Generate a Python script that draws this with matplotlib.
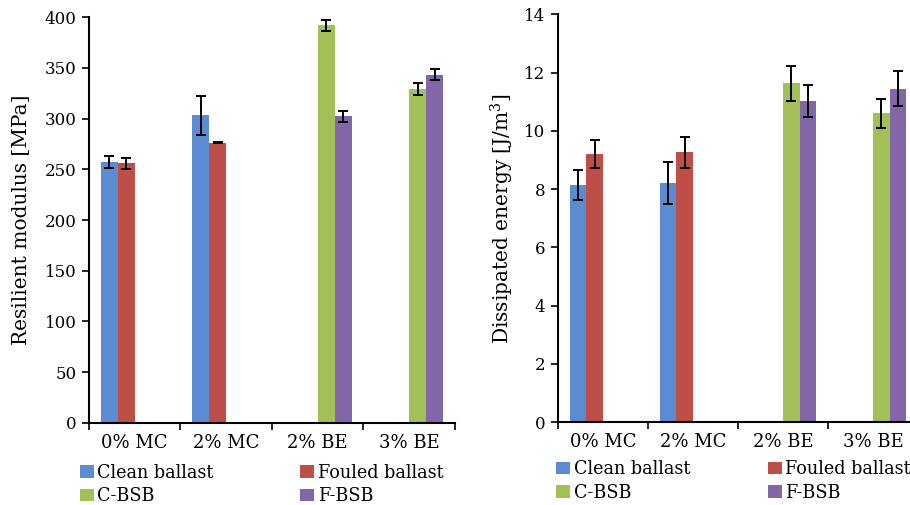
import numpy as np
import matplotlib

matplotlib.use("Agg")
import matplotlib.pyplot as plt

plt.rcParams["font.family"] = ["DejaVu Serif"]
plt.rcParams["mathtext.fontset"] = "dejavuserif"

# Dados (nan = série ausente na categoria)
categorias = ["0% MC", "2% MC", "2% BE", "3% BE"]
series = ["Clean ballast", "Fouled ballast", "C-BSB", "F-BSB"]
cores = ["#5b8bd0", "#bd4f48", "#a2c057", "#8166a8"]

mr_clean = [257, 303, np.nan, np.nan]
mr_fouled = [256, 276, np.nan, np.nan]
mr_cbsb = [np.nan, np.nan, 392, 329]
mr_fbsb = [np.nan, np.nan, 302, 343]
mr_err_clean = [6, 19, 0, 0]
mr_err_fouled = [5.5, 0.5, 0, 0]
mr_err_cbsb = [0, 0, 5.5, 6]
mr_err_fbsb = [0, 0, 5, 5.5]

de_clean = [8.15, 8.2, np.nan, np.nan]
de_fouled = [9.2, 9.27, np.nan, np.nan]
de_cbsb = [np.nan, np.nan, 11.63, 10.6]
de_fbsb = [np.nan, np.nan, 11.02, 11.44]
de_err_clean = [0.51, 0.72, 0, 0]
de_err_fouled = [0.47, 0.53, 0, 0]
de_err_cbsb = [0, 0, 0.59, 0.5]
de_err_fbsb = [0, 0, 0.55, 0.6]

LARG = 0.185


def _painel(ax, valores, erros, ylim, yticks, ylabel, leg_x, leg_y, colsp):
    x = np.arange(len(categorias))
    handles = []
    for i, (v, e) in enumerate(zip(valores, erros)):
        v = np.asarray(v, float)
        e = np.asarray(e, float)
        ok = ~np.isnan(v)
        pos = x[ok] + (i - 1.5) * LARG
        h = ax.bar(pos, v[ok], width=LARG, color=cores[i], label=series[i],
                   edgecolor="none", zorder=2)
        handles.append(h)
        ax.errorbar(pos, v[ok], yerr=e[ok], fmt="none", ecolor="black",
                    elinewidth=1.4, capsize=3.5, capthick=1.4, zorder=3)
    ax.set_xlim(-0.5, len(categorias) - 0.5)
    ax.set_ylim(*ylim)
    ax.set_yticks(yticks)
    ax.set_xticks(x)
    ax.set_xticklabels(categorias, fontsize=13)
    ax.set_xticks(np.arange(len(categorias) + 1) - 0.5, minor=True)
    ax.tick_params(axis="x", which="major", length=0, pad=8)
    ax.tick_params(axis="x", which="minor", length=5, width=1.2, direction="out")
    ax.tick_params(axis="y", length=5, width=1.2, labelsize=12, pad=4)
    for s in ("top", "right"):
        ax.spines[s].set_visible(False)
    for s in ("left", "bottom"):
        ax.spines[s].set_linewidth(1.5)
    ax.set_ylabel(ylabel, fontsize=14.5)
    # ordem por linhas: Clean | Fouled / C-BSB | F-BSB
    ordem = [0, 2, 1, 3]
    ax.legend([handles[k] for k in ordem], [series[k] for k in ordem],
              loc="upper left", bbox_to_anchor=(leg_x, leg_y), ncol=2,
              frameon=False, fontsize=12.7, handlelength=0.8, handleheight=0.7,
              handletextpad=0.2, columnspacing=colsp, labelspacing=0.3,
              borderpad=0, borderaxespad=0)


fig = plt.figure(figsize=(9.1, 5.05), dpi=100)
ax1 = fig.add_axes([0.0978, 0.1624, 0.4022, 0.8039])
ax2 = fig.add_axes([0.6132, 0.1638, 0.3956, 0.8079])

_painel(ax1, [mr_clean, mr_fouled, mr_cbsb, mr_fbsb],
        [mr_err_clean, mr_err_fouled, mr_err_cbsb, mr_err_fbsb],
        (0, 400), np.arange(0, 401, 50), "Resilient modulus [MPa]",
        -0.025, -0.1, 4.9)
_painel(ax2, [de_clean, de_fouled, de_cbsb, de_fbsb],
        [de_err_clean, de_err_fouled, de_err_cbsb, de_err_fbsb],
        (0, 14), np.arange(0, 15, 2), "Dissipated energy [J/m$^3$]",
        -0.005, -0.093, 4.4)
ax1.yaxis.set_label_coords(-0.158, 0.5)
ax2.yaxis.set_label_coords(-0.117, 0.5)

fig.savefig("out.png", dpi=100)
